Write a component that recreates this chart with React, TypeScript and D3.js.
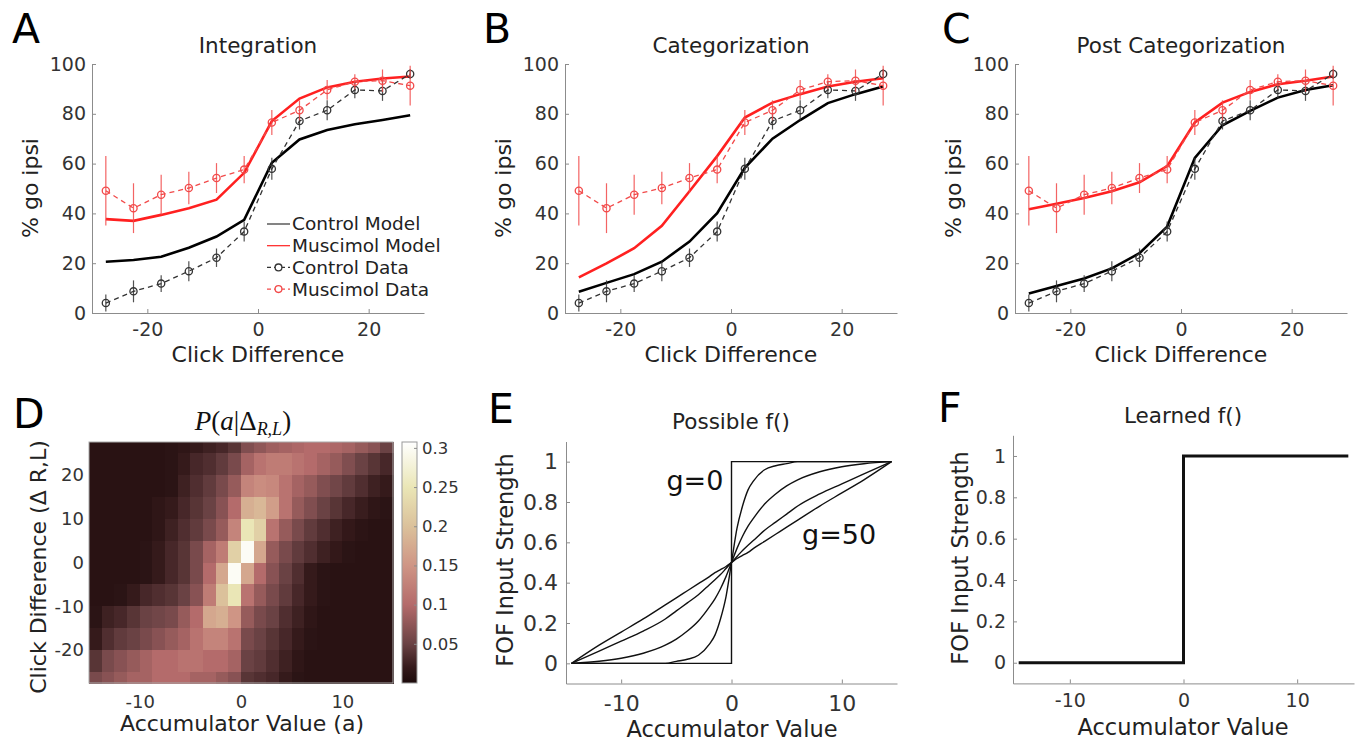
import React, { useEffect, useRef } from 'react';
import * as d3 from 'd3';

// click difference bins (same for every top panel)
const clickDiff = [-27.5, -22.5, -17.5, -12.5, -7.5, -2.5, 2.5, 7.5, 12.5, 17.5, 22.5, 27.5];
const controlData = [4, 8.7, 11.8, 16.8, 22.2, 32.7, 57.9, 77.1, 81.4, 89.6, 89.2, 96];
const controlErr = [3.4, 4.4, 3.4, 4, 3.7, 4, 4.4, 3.4, 4, 3.4, 4, 2];
const muscimolData = [49.1, 42.1, 47.5, 50.2, 54.2, 57.6, 76.5, 81.4, 89.6, 92.9, 93.3, 91.3];
const muscimolErr = [14, 10, 8, 6.5, 6, 5.5, 5, 4, 4, 3, 4.5, 8];

const integrationControl = [20.6, 21.3, 22.6, 26.2, 30.7, 37.4, 60.3, 69.7, 73.5, 75.8, 77.5, 79.4];
const integrationMuscimol = [37.7, 37, 39.4, 42.1, 45.5, 56.3, 77.1, 86.1, 90.6, 92.9, 94.2, 95];
const categorizationControl = [8.5, 12.1, 15.6, 20.6, 28.7, 40.1, 58.3, 70, 77.5, 84.3, 87.9, 91];
const categorizationMuscimol = [14.3, 19.9, 26, 35, 48.9, 63, 78.5, 84.5, 87.9, 91, 92.9, 94.3];
const postCatControl = [7.8, 10.8, 13.9, 17.9, 24, 34.7, 62.3, 75.4, 81.2, 86.5, 89.6, 91.5];
const postCatMuscimol = [41.7, 43.9, 46.2, 48.9, 52.5, 59, 76.5, 84.5, 88.8, 91.9, 93.3, 95];

const legendLabels = ['Control Model', 'Muscimol Model', 'Control Data', 'Muscimol Data'];

// panel D: P(a | delta) heatmap
const accumEdges = [-15, -13.75, -12.5, -11.25, -10, -8.75, -7.5, -6.25, -5, -3.75, -2.5, -1.25, 0,
  1.25, 2.5, 3.75, 5, 6.25, 7.5, 8.75, 10, 11.25, 12.5, 13.75, 15];
const clickEdges = [27.5, 25, 20, 15, 10, 5, 0, -5, -10, -15, -20, -25, -27.5];
const density = [
  [0.01, 0.01, 0.01, 0.01, 0.01, 0.01, 0.012, 0.015, 0.02, 0.025, 0.03, 0.04, 0.065, 0.075, 0.085, 0.09, 0.095, 0.1, 0.1, 0.095, 0.09, 0.08, 0.07, 0.05],
  [0.01, 0.01, 0.01, 0.01, 0.01, 0.01, 0.012, 0.02, 0.03, 0.035, 0.045, 0.06, 0.09, 0.11, 0.12, 0.12, 0.11, 0.1, 0.09, 0.08, 0.065, 0.05, 0.04, 0.03],
  [0.01, 0.01, 0.01, 0.01, 0.01, 0.01, 0.012, 0.025, 0.035, 0.045, 0.06, 0.08, 0.13, 0.14, 0.135, 0.11, 0.09, 0.08, 0.065, 0.055, 0.045, 0.035, 0.025, 0.02],
  [0.01, 0.01, 0.01, 0.01, 0.01, 0.015, 0.02, 0.03, 0.04, 0.05, 0.07, 0.1, 0.18, 0.19, 0.16, 0.11, 0.08, 0.065, 0.05, 0.04, 0.03, 0.022, 0.015, 0.012],
  [0.01, 0.01, 0.01, 0.01, 0.01, 0.015, 0.025, 0.035, 0.045, 0.06, 0.08, 0.13, 0.25, 0.22, 0.11, 0.08, 0.06, 0.045, 0.035, 0.025, 0.018, 0.013, 0.01, 0.01],
  [0.01, 0.01, 0.01, 0.01, 0.012, 0.02, 0.03, 0.04, 0.06, 0.09, 0.12, 0.22, 0.3, 0.17, 0.08, 0.06, 0.045, 0.035, 0.025, 0.018, 0.012, 0.01, 0.01, 0.01],
  [0.01, 0.01, 0.01, 0.01, 0.012, 0.02, 0.03, 0.04, 0.06, 0.1, 0.17, 0.3, 0.17, 0.1, 0.07, 0.05, 0.035, 0.02, 0.012, 0.01, 0.01, 0.01, 0.01, 0.01],
  [0.01, 0.01, 0.012, 0.02, 0.03, 0.035, 0.04, 0.05, 0.07, 0.12, 0.2, 0.25, 0.11, 0.08, 0.06, 0.045, 0.03, 0.02, 0.012, 0.01, 0.01, 0.01, 0.01, 0.01],
  [0.012, 0.025, 0.03, 0.04, 0.05, 0.055, 0.06, 0.08, 0.1, 0.17, 0.18, 0.15, 0.08, 0.06, 0.05, 0.035, 0.025, 0.015, 0.01, 0.01, 0.01, 0.01, 0.01, 0.01],
  [0.02, 0.035, 0.045, 0.05, 0.06, 0.07, 0.08, 0.09, 0.11, 0.13, 0.13, 0.11, 0.06, 0.05, 0.04, 0.03, 0.02, 0.012, 0.01, 0.01, 0.01, 0.01, 0.01, 0.01],
  [0.04, 0.06, 0.07, 0.08, 0.09, 0.1, 0.1, 0.11, 0.11, 0.1, 0.1, 0.09, 0.05, 0.045, 0.035, 0.025, 0.015, 0.01, 0.01, 0.01, 0.01, 0.01, 0.01, 0.01],
  [0.06, 0.07, 0.08, 0.09, 0.09, 0.1, 0.1, 0.1, 0.09, 0.09, 0.08, 0.07, 0.04, 0.035, 0.03, 0.02, 0.012, 0.01, 0.01, 0.01, 0.01, 0.01, 0.01, 0.01],
];
const cmapStops = [0, 0.02, 0.05, 0.1, 0.15, 0.2, 0.25, 0.3075];
const cmapColors = ['#1c0a0b', '#351a1b', '#6a4244', '#b46b6b', '#cf9585', '#dbc19b', '#eae6b6', '#ffffff'];
const colorbarTicks = [0.05, 0.1, 0.15, 0.2, 0.25, 0.3];

// panel E: family of possible f()
const possibleX = [-14.5, -12, -10, -8, -6, -5, -4, -3, -2, -1.5, -1, -0.5, 0, 0.5, 1, 1.5, 2, 3, 4, 5, 6, 8, 10, 12, 14.5];
const possibleCurves = [
  [0, 0, 0, 0, 0, 0.01, 0.02, 0.04, 0.095, 0.14, 0.22, 0.33, 0.5, 0.67, 0.78, 0.86, 0.905, 0.96, 0.98, 0.99, 1, 1, 1, 1, 1],
  [0, 0.01, 0.025, 0.05, 0.09, 0.12, 0.16, 0.21, 0.28, 0.32, 0.37, 0.43, 0.5, 0.57, 0.63, 0.68, 0.72, 0.79, 0.84, 0.88, 0.91, 0.95, 0.975, 0.99, 1],
  [0, 0.06, 0.11, 0.16, 0.22, 0.26, 0.3, 0.34, 0.39, 0.415, 0.44, 0.47, 0.5, 0.53, 0.56, 0.585, 0.61, 0.66, 0.7, 0.74, 0.78, 0.84, 0.89, 0.94, 1],
  [0, 0.09, 0.155, 0.22, 0.29, 0.325, 0.36, 0.395, 0.43, 0.45, 0.465, 0.48, 0.5, 0.52, 0.535, 0.55, 0.57, 0.605, 0.64, 0.675, 0.71, 0.78, 0.845, 0.91, 1],
];
const stepX = [-14.5, 0, 0, 14.5];
const stepY = [0, 0, 1, 1];
// panel F: learned f()
const learnedX = [-14.5, 0, 0, 14.5];
const learnedY = [0, 0, 1, 1];

const FONT = 'DejaVu Sans, sans-serif';
const AXIS = '#8c8c8c';
const TXT = '#333';
const RED = '#ff2020';
const RED_DATA = '#f24a4a';

const App = () => {
  const svgRef = useRef<SVGSVGElement>(null);

  useEffect(() => {
    const svg = d3.select(svgRef.current);
    svg.selectAll('*').remove();

    const styleAxis = (sel: any, size: number) => {
      sel.select('.domain').attr('stroke', AXIS).attr('stroke-width', 1);
      sel.selectAll('.tick line').attr('stroke', AXIS);
      sel.selectAll('.tick text').attr('fill', TXT).style('font-family', FONT).style('font-size', size + 'px');
    };
    const label = (x: number, y: number, txt: string, size: number, opts: any = {}) => {
      const t = svg.append('text')
        .attr('x', x).attr('y', y)
        .attr('text-anchor', opts.anchor || 'middle')
        .attr('fill', opts.fill || '#222')
        .style('font-family', opts.family || FONT)
        .style('font-size', size + 'px')
        .text(txt);
      if (opts.rotate) t.attr('transform', `rotate(-90, ${x}, ${y})`);
      return t;
    };
    const fmt = (d: any) => String(d);

    // Paneles superiores A-C
    const topPanels = [
      { letter: 'A', lx: 12, title: 'Integration', left: 92, control: integrationControl, muscimol: integrationMuscimol, legend: true },
      { letter: 'B', lx: 483, title: 'Categorization', left: 565, control: categorizationControl, muscimol: categorizationMuscimol, legend: false },
      { letter: 'C', lx: 942, title: 'Post Categorization', left: 1015, control: postCatControl, muscimol: postCatMuscimol, legend: false },
    ];

    topPanels.forEach(p => {
      const x = d3.scaleLinear().domain([-30, 30]).range([p.left, p.left + 332]);
      const y = d3.scaleLinear().domain([0, 100]).range([313, 64]);

      const xa = svg.append('g').attr('transform', 'translate(0,313)')
        .call(d3.axisBottom(x).tickValues([-20, 0, 20]).tickSizeInner(-4).tickSizeOuter(0).tickPadding(10).tickFormat(fmt));
      styleAxis(xa, 19);
      const ya = svg.append('g').attr('transform', `translate(${p.left},0)`)
        .call(d3.axisLeft(y).tickValues([0, 20, 40, 60, 80, 100]).tickSizeInner(-4).tickSizeOuter(0).tickPadding(6).tickFormat(fmt));
      styleAxis(ya, 19);

      const line = d3.line<number>().x((_, i) => x(clickDiff[i])).y(d => y(d));

      // modelos
      svg.append('path').datum(p.control).attr('d', line).attr('fill', 'none').attr('stroke', '#000').attr('stroke-width', 2.6);
      svg.append('path').datum(p.muscimol).attr('d', line).attr('fill', 'none').attr('stroke', RED).attr('stroke-width', 2.6);

      // datos
      const drawData = (vals: number[], errs: number[], color: string) => {
        svg.append('path').datum(vals).attr('d', line).attr('fill', 'none')
          .attr('stroke', color).attr('stroke-width', 1.3).attr('stroke-dasharray', '5,4');
        vals.forEach((v, i) => {
          svg.append('line')
            .attr('x1', x(clickDiff[i])).attr('x2', x(clickDiff[i]))
            .attr('y1', y(v - errs[i])).attr('y2', y(v + errs[i]))
            .attr('stroke', color).attr('stroke-width', 1.2).attr('opacity', 0.85);
          svg.append('circle').attr('cx', x(clickDiff[i])).attr('cy', y(v)).attr('r', 3.6)
            .attr('fill', 'none').attr('stroke', color).attr('stroke-width', 1.3);
        });
      };
      drawData(controlData, controlErr, '#333');
      drawData(muscimolData, muscimolErr, RED_DATA);

      label(p.left + 166, 53, p.title, 21.5);
      label(p.left + 166, 362, 'Click Difference', 22);
      label(p.left - 54, 188, '% go ipsi', 22, { rotate: true });
      label(p.lx, 43, p.letter, 41, { anchor: 'start', fill: '#000' });

      if (p.legend) {
        const lx0 = p.left + 175;
        const colors = ['#333', RED, '#333', RED_DATA];
        legendLabels.forEach((name, i) => {
          const ly = 224 + i * 21.7;
          svg.append('line').attr('x1', lx0).attr('x2', lx0 + 23).attr('y1', ly).attr('y2', ly)
            .attr('stroke', colors[i]).attr('stroke-width', 1.2)
            .attr('stroke-dasharray', i >= 2 ? '4,3' : null);
          if (i >= 2) {
            svg.append('circle').attr('cx', lx0 + 11.5).attr('cy', ly).attr('r', 3.4)
              .attr('fill', '#fff').attr('stroke', colors[i]).attr('stroke-width', 1.3);
          }
          svg.append('text').attr('x', lx0 + 25).attr('y', ly).attr('dy', '0.35em')
            .attr('fill', '#222').style('font-family', FONT).style('font-size', '18.5px').text(name);
        });
      }
    });

    // Panel D: mapa de calor
    const hx = d3.scaleLinear().domain([-15, 15]).range([89, 393]);
    const hy = d3.scaleLinear().domain([-27.5, 27.5]).range([683, 442]);
    const color = d3.scaleLinear<string>().domain(cmapStops).range(cmapColors)
      .interpolate(d3.interpolateRgb).clamp(true);

    const cells = svg.append('g').attr('shape-rendering', 'crispEdges');
    density.forEach((row, r) => {
      row.forEach((v, c) => {
        const x0 = hx(accumEdges[c]);
        const x1 = hx(accumEdges[c + 1]);
        const y0 = hy(clickEdges[r]);
        const y1 = hy(clickEdges[r + 1]);
        cells.append('rect').attr('x', x0).attr('y', y0)
          .attr('width', x1 - x0 + 0.6).attr('height', y1 - y0 + 0.6)
          .attr('fill', color(v));
      });
    });
    svg.append('rect').attr('x', 89).attr('y', 442).attr('width', 304).attr('height', 241)
      .attr('fill', 'none').attr('stroke', '#aaa').attr('stroke-width', 1);

    const dxa = svg.append('g').attr('transform', 'translate(0,683)')
      .call(d3.axisBottom(hx).tickValues([-10, 0, 10]).tickSize(0).tickPadding(12).tickFormat(fmt));
    styleAxis(dxa, 18);
    dxa.select('.domain').remove();
    const dya = svg.append('g').attr('transform', 'translate(89,0)')
      .call(d3.axisLeft(hy).tickValues([-20, -10, 0, 10, 20]).tickSize(0).tickPadding(5).tickFormat(fmt));
    styleAxis(dya, 18);
    dya.select('.domain').remove();

    // barra de color
    const cb = d3.scaleLinear().domain([0, 0.3075]).range([683, 442]);
    const defs = svg.append('defs');
    const grad = defs.append('linearGradient').attr('id', 'cbGrad')
      .attr('x1', '0%').attr('y1', '100%').attr('x2', '0%').attr('y2', '0%');
    cmapStops.forEach((s, i) => {
      grad.append('stop').attr('offset', (s / 0.3075) * 100 + '%').attr('stop-color', cmapColors[i]);
    });
    svg.append('rect').attr('x', 402).attr('y', 442).attr('width', 15).attr('height', 241)
      .attr('fill', 'url(#cbGrad)').attr('stroke', '#999').attr('stroke-width', 1);
    const cba = svg.append('g').attr('transform', 'translate(417,0)')
      .call(d3.axisRight(cb).tickValues(colorbarTicks).tickSizeInner(-3).tickSizeOuter(0).tickPadding(5).tickFormat(fmt));
    styleAxis(cba, 16.5);
    cba.select('.domain').remove();

    // titulo LaTeX de D
    const tt = svg.append('text').attr('x', 243).attr('y', 430).attr('text-anchor', 'middle')
      .attr('fill', '#111').style('font-family', 'Liberation Serif, DejaVu Serif, serif').style('font-size', '27px');
    tt.append('tspan').style('font-style', 'italic').text('P');
    tt.append('tspan').text('(');
    tt.append('tspan').style('font-style', 'italic').text('a');
    tt.append('tspan').text('|Δ');
    tt.append('tspan').style('font-style', 'italic').style('font-size', '18px').attr('dy', 5).text('R,L');
    tt.append('tspan').attr('dy', -5).text(')');

    label(242, 731, 'Accumulator Value (a)', 22);
    label(46, 567, 'Click Difference (Δ R,L)', 22, { rotate: true });
    label(13, 428, 'D', 41, { anchor: 'start', fill: '#000' });

    // Panel E
    const ex = d3.scaleLinear().domain([-15, 15]).range([566, 897]);
    const ey = d3.scaleLinear().domain([-0.1, 1.1]).range([683.5, 441.5]);
    const exa = svg.append('g').attr('transform', 'translate(0,683.5)')
      .call(d3.axisBottom(ex).tickValues([-10, 0, 10]).tickSizeInner(-4).tickSizeOuter(0).tickPadding(12).tickFormat(fmt));
    styleAxis(exa, 22);
    const eya = svg.append('g').attr('transform', 'translate(566,0)')
      .call(d3.axisLeft(ey).tickValues([0, 0.2, 0.4, 0.6, 0.8, 1]).tickSizeInner(-4).tickSizeOuter(0).tickPadding(8).tickFormat(fmt));
    styleAxis(eya, 22);

    const eLine = d3.line<number>().x((_, i) => ex(possibleX[i])).y(d => ey(d)).curve(d3.curveMonotoneX);
    possibleCurves.forEach(c => {
      svg.append('path').datum(c).attr('d', eLine).attr('fill', 'none').attr('stroke', '#111').attr('stroke-width', 1.4);
    });
    const stepLine = d3.line<number>().x((_, i) => ex(stepX[i])).y(d => ey(d));
    svg.append('path').datum(stepY).attr('d', stepLine).attr('fill', 'none').attr('stroke', '#111').attr('stroke-width', 1.4);

    label(ex(-5.9), ey(0.86), 'g=0', 27, { anchor: 'start', fill: '#111' });
    label(ex(6.4), ey(0.59), 'g=50', 27, { anchor: 'start', fill: '#111' });
    label(731, 429, 'Possible f()', 21.5);
    label(732, 737, 'Accumulator Value', 22.5);
    label(513, 560, 'FOF Input Strength', 22.5, { rotate: true });
    label(488, 423, 'E', 41, { anchor: 'start', fill: '#000' });

    // Panel F
    const fx = d3.scaleLinear().domain([-15, 15]).range([1013, 1354]);
    const fy = d3.scaleLinear().domain([-0.1, 1.1]).range([683.4, 435.3]);
    const fxa = svg.append('g').attr('transform', 'translate(0,683.4)')
      .call(d3.axisBottom(fx).tickValues([-10, 0, 10]).tickSizeInner(-4).tickSizeOuter(0).tickPadding(10).tickFormat(fmt));
    styleAxis(fxa, 19);
    const fya = svg.append('g').attr('transform', 'translate(1013,0)')
      .call(d3.axisLeft(fy).tickValues([0, 0.2, 0.4, 0.6, 0.8, 1]).tickSizeInner(-4).tickSizeOuter(0).tickPadding(7).tickFormat(fmt));
    styleAxis(fya, 19);

    const fLine = d3.line<number>().x((_, i) => fx(learnedX[i])).y(d => fy(d));
    svg.append('path').datum(learnedY).attr('d', fLine).attr('fill', 'none').attr('stroke', '#111').attr('stroke-width', 3);

    label(1183, 423, 'Learned f()', 21.5);
    label(1183, 735, 'Accumulator Value', 22.5);
    label(968, 558, 'FOF Input Strength', 22.5, { rotate: true });
    label(938, 422, 'F', 41, { anchor: 'start', fill: '#000' });
  }, []);

  return (
    <svg
      ref={svgRef}
      width={1360}
      height={743}
      style={{ position: 'absolute', left: 0, top: 0, background: '#fff' }}
    />
  );
};

export default App;
